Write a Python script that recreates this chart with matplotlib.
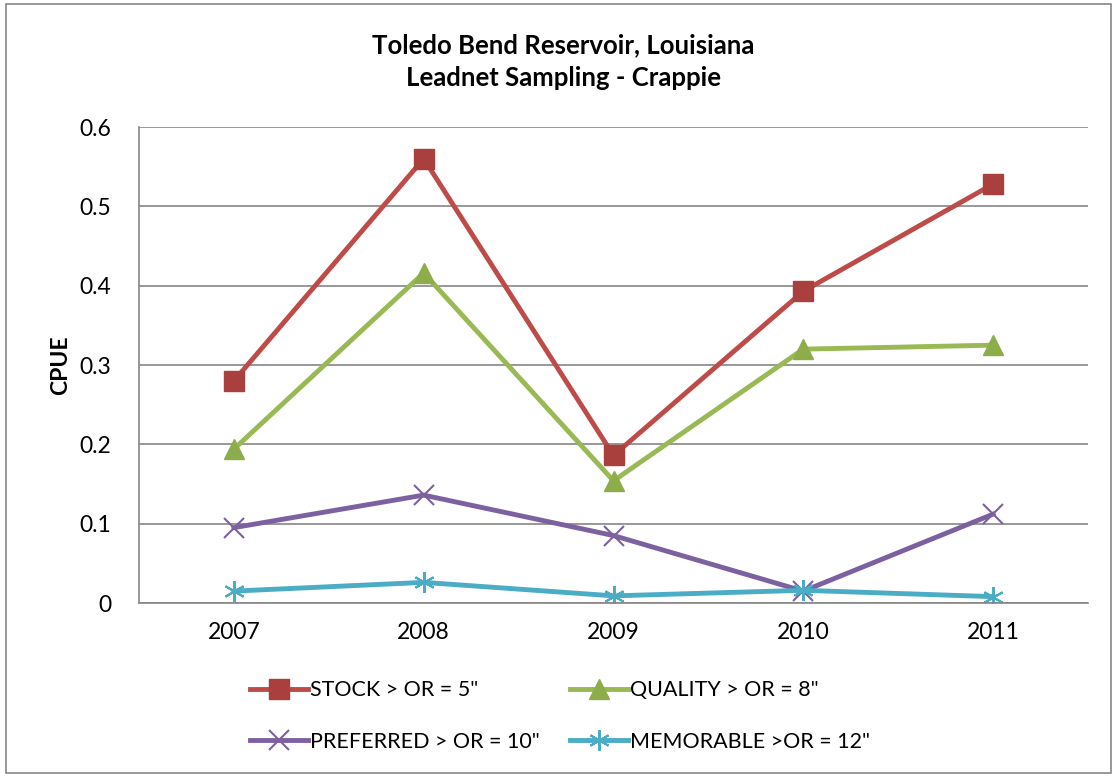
import matplotlib
matplotlib.use("Agg")
import matplotlib.pyplot as plt
from matplotlib.patches import Rectangle

plt.rcParams['font.family'] = ['Lato', 'DejaVu Sans']

years = ["2007", "2008", "2009", "2010", "2011"]
stock = [0.280, 0.560, 0.186, 0.393, 0.528]
quality = [0.194, 0.416, 0.154, 0.320, 0.325]
preferred = [0.095, 0.136, 0.085, 0.015, 0.112]
memorable = [0.015, 0.026, 0.009, 0.016, 0.008]
labels = ['STOCK > OR = 5"', 'QUALITY > OR = 8"', 'PREFERRED > OR = 10"', 'MEMORABLE >OR = 12"']

W, H = 1117, 777
fig = plt.figure(figsize=(W/100, H/100), dpi=100)
fig.patches.append(Rectangle((6/W, 4/H), 1 - 12/W, 1 - 8/H, transform=fig.transFigure,
                             fill=False, edgecolor='#868686', linewidth=1.2))
ax = fig.add_axes([139/W, 1 - 603/H, (1088-139)/W, (603-127)/H])

x = list(range(len(years)))
h1, = ax.plot(x, stock, color='#BE4B48', lw=3.5, marker='s', ms=14, mfc='#A9403D', mec='#A9403D', label=labels[0])
h2, = ax.plot(x, quality, color='#98B954', lw=3.5, marker='^', ms=15, mfc='#8CAD49', mec='#8CAD49', label=labels[1])
h3, = ax.plot(x, preferred, color='#7D60A0', lw=3.5, marker='x', ms=14, mew=1.5, mec='#7D60A0', label=labels[2])
h4, = ax.plot(x, memorable, color='#4AACC5', lw=3.5, marker=(6, 2, 0), ms=15, mew=1.5, mec='#4AACC5', label=labels[3])

ax.set_xlim(-0.5, 4.5)
ax.set_ylim(0, 0.6)
ax.set_yticks([0, 0.1, 0.2, 0.3, 0.4, 0.5, 0.6])
ax.set_yticklabels(['0', '0.1', '0.2', '0.3', '0.4', '0.5', '0.6'])
ax.set_xticks(x)
ax.set_xticklabels(years)
ax.tick_params(axis='both', labelsize=16.5, length=0)
ax.tick_params(axis='x', pad=14)
ax.tick_params(axis='y', pad=20)
ax.grid(axis='y', color='#868686', lw=1.2)
ax.set_axisbelow(True)
for s in ['top', 'right']:
    ax.spines[s].set_visible(False)
for s in ['left', 'bottom']:
    ax.spines[s].set_color('#868686')
    ax.spines[s].set_linewidth(1.2)
ax.set_ylabel('CPUE', fontsize=16.5, fontweight='bold', labelpad=6)

fig.text(563/W, 1 - 45/H, 'Toledo Bend Reservoir, Louisiana', ha='center', va='center', fontsize=18.5, fontweight='bold')
fig.text(563/W, 1 - 78/H, 'Leadnet Sampling - Crappie', ha='center', va='center', fontsize=18.5, fontweight='bold')

fig.legend([h1, h3, h2, h4], [labels[0], labels[2], labels[1], labels[3]],
           loc='center', bbox_to_anchor=(560/W, 1 - 716/H), ncol=2, frameon=False, fontsize=15.5,
           handlelength=2.7, handletextpad=0.1, columnspacing=1.4, labelspacing=1.45)

fig.savefig('out.png', dpi=100)
